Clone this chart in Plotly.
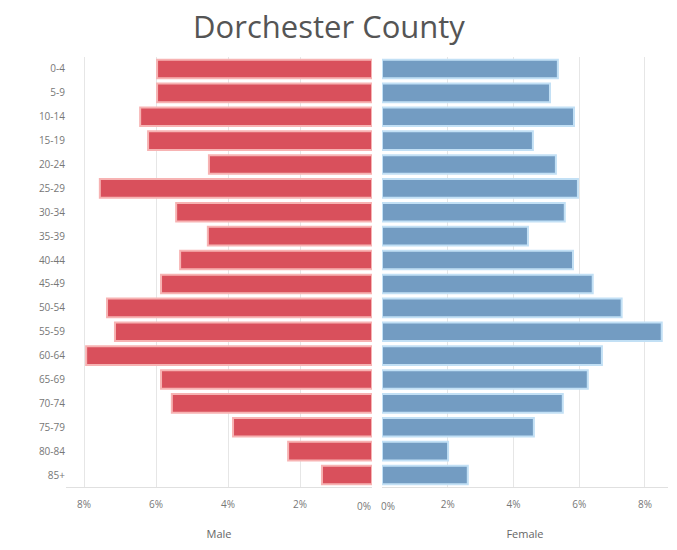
import plotly.graph_objects as go

age_groups = ["0-4", "5-9", "10-14", "15-19", "20-24", "25-29", "30-34", "35-39",
              "40-44", "45-49", "50-54", "55-59", "60-64", "65-69", "70-74", "75-79",
              "80-84", "85+"]
male_pct = [5.97, 5.97, 6.44, 6.22, 4.53, 7.56, 5.44, 4.56, 5.33, 5.86,
            7.36, 7.14, 7.94, 5.86, 5.56, 3.86, 2.33, 1.39]
female_pct = [5.35, 5.11, 5.84, 4.59, 5.29, 5.96, 5.56, 4.44, 5.81, 6.41,
              7.29, 8.51, 6.69, 6.26, 5.50, 4.62, 2.01, 2.61]
tick_vals = [0, 2, 4, 6, 8]
tick_text = ["", "2%", "4%", "6%", "8%"]
zero_label = "0%"

fig = go.Figure()
fig.add_trace(go.Bar(
    y=age_groups, x=male_pct, orientation="h", name="Male",
    xaxis="x", yaxis="y",
    marker=dict(color="#d9505c", line=dict(color="#f7b3b3", width=2)),
    hovertemplate="%{y}: %{x:.2f}%<extra>Male</extra>",
))
fig.add_trace(go.Bar(
    y=age_groups, x=female_pct, orientation="h", name="Female",
    xaxis="x2", yaxis="y",
    marker=dict(color="#739cc2", line=dict(color="#c2e0f5", width=2)),
    hovertemplate="%{y}: %{x:.2f}%<extra>Female</extra>",
))

tick_font = dict(size=10, color="#777777", family="Open Sans")
axis_common = dict(
    tickvals=tick_vals, ticktext=tick_text,
    showgrid=True, gridcolor="#e6e6e6", gridwidth=1,
    zeroline=False, showline=True, linecolor="#e0e0e0",
    ticklabelstandoff=8, automargin=False,
    tickfont=tick_font,
    title_font=dict(size=11, color="#666666", family="Open Sans"),
    fixedrange=True,
)

fig.update_layout(
    width=677, height=550,
    margin=dict(l=60, r=9, t=57, b=63),
    paper_bgcolor="white", plot_bgcolor="white",
    showlegend=False,
    bargap=0.22,
    title=dict(text="Dorchester County", x=329 / 677, xanchor="center",
               y=1 - 27 / 550, yanchor="middle",
               font=dict(size=31, color="#555555", family="Open Sans")),
    xaxis=dict(domain=[6 / 608, 312 / 608], range=[8.5, 0],
               title=dict(text="Male", standoff=20), **axis_common),
    xaxis2=dict(domain=[322 / 608, 1.0], range=[0, 8.7],
                title=dict(text="Female", standoff=20), **axis_common),
    yaxis=dict(categoryorder="array", categoryarray=age_groups,
               autorange="reversed", showgrid=False, zeroline=False,
               tickfont=tick_font, ticks="", fixedrange=True),
    annotations=[
        dict(text=zero_label, x=0, xref="x", y=0, yref="paper",
             xanchor="right", yanchor="top", xshift=1, yshift=-10,
             showarrow=False, font=tick_font),
        dict(text=zero_label, x=0, xref="x2", y=0, yref="paper",
             xanchor="left", yanchor="top", xshift=-3, yshift=-10,
             showarrow=False, font=tick_font),
    ],
)

fig.write_html("out.html")
